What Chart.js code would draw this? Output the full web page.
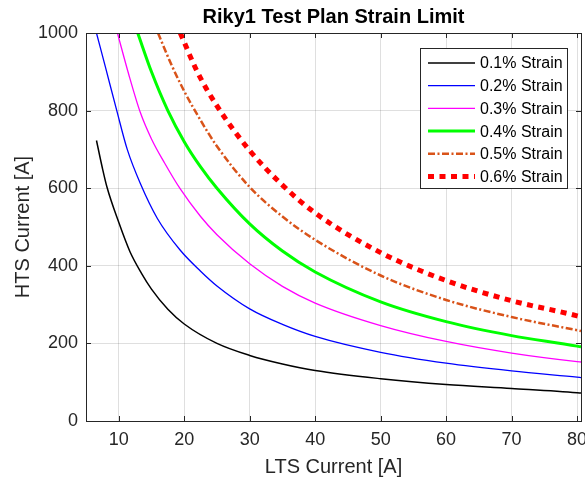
<!DOCTYPE html>
<html>
<head>
<meta charset="utf-8">
<title>Riky1 Test Plan Strain Limit</title>
<script src="https://cdn.jsdelivr.net/npm/chart.js@4.4.1/dist/chart.umd.min.js"></script>
<style>
    html, body { margin: 0; padding: 0; background: #fff; }
    #wrap { width: 585px; height: 480px; }
</style>
</head>
<body>
<div id="wrap"><canvas id="strainChart" width="585" height="480"></canvas></div>
<script>
// ================= DATA =================
const xTicks = [10, 20, 30, 40, 50, 60, 70, 80];
const yTicks = [0, 200, 400, 600, 800, 1000];

const seriesLabels = ['0.1% Strain', '0.2% Strain', '0.3% Strain', '0.4% Strain', '0.5% Strain', '0.6% Strain'];

// LTS current [A] / HTS current [A] per strain level
const lts01 = [6.6, 7.5, 8.2, 10, 11.7, 13.5, 15, 17.5, 20, 25, 30, 35, 40, 50, 60, 70, 80, 80.6];
const hts01 = [723, 652, 603, 512, 437, 380, 340, 288, 250, 200, 169, 147, 130, 109, 94, 84, 73, 72];

const lts02 = [6.6, 8, 9.7, 11.3, 13.3, 15.9, 19.4, 22.5, 25, 30, 35, 40, 50, 60, 70, 80, 80.6];
const hts02 = [1000, 910, 800, 700, 612, 522, 440, 386, 348, 289, 249, 218, 177, 149, 129, 113, 112];

const lts03 = [9.8, 11.5, 13.3, 15, 17, 19.4, 22.5, 25, 30, 35, 40, 50, 60, 70, 80, 80.6];
const hts03 = [1000, 895, 795, 727, 665, 598, 527, 480, 405, 347, 304, 246, 205, 175, 153, 152];

const lts04 = [12.9, 15, 17.5, 20, 22.5, 25, 30, 35, 40, 50, 60, 70, 80, 80.6];
const hts04 = [1000, 900, 800, 720, 655, 600, 508, 438, 384, 307, 256, 220, 193, 191];

const lts05 = [16, 18, 20, 22.5, 25, 30, 35, 40, 50, 60, 70, 80, 80.6];
const hts05 = [1000, 920, 850, 775, 708, 603, 527, 467, 375, 312, 268, 234, 232];

const lts06 = [19.4, 22, 25, 30, 35, 40, 50, 60, 70, 80, 80.6];
const hts06 = [1000, 900, 812, 697, 608, 536, 434, 362, 310, 271, 268];

// ================= STYLE =================
const FONT = '"Liberation Sans", Arial, Helvetica, sans-serif';
const AXIS_COLOR = '#262626';
const GRID_COLOR = 'rgba(38,38,38,0.15)';

const toPoints = (xs, ys) => xs.map((x, i) => ({ x, y: ys[i] }));

function makeLine(label, xs, ys, color, width, dash) {
    return {
        label,
        data: toPoints(xs, ys),
        borderColor: color,
        backgroundColor: color,
        borderWidth: width,
        borderDash: dash,
        borderCapStyle: 'butt',
        pointRadius: 0,
        fill: false,
        cubicInterpolationMode: 'monotone'
    };
}

// ================= PLUGINS =================
// axes box with inward tick marks
const framePlugin = {
    id: 'frame',
    afterDatasetsDraw(chart) {
        const { ctx, chartArea: a, scales } = chart;
        const len = 5;
        ctx.save();
        ctx.strokeStyle = AXIS_COLOR;
        ctx.lineWidth = 1;
        ctx.setLineDash([]);
        ctx.beginPath();
        xTicks.forEach(v => {
            const px = Math.round(scales.x.getPixelForValue(v)) + 0.5;
            ctx.moveTo(px, a.bottom); ctx.lineTo(px, a.bottom - len);
            ctx.moveTo(px, a.top); ctx.lineTo(px, a.top + len);
        });
        yTicks.forEach(v => {
            const py = Math.round(scales.y.getPixelForValue(v)) + 0.5;
            ctx.moveTo(a.left, py); ctx.lineTo(a.left + len, py);
            ctx.moveTo(a.right, py); ctx.lineTo(a.right - len, py);
        });
        ctx.stroke();
        ctx.strokeRect(Math.round(a.left) + 0.5, Math.round(a.top) + 0.5,
            Math.round(a.right - a.left), Math.round(a.bottom - a.top));
        ctx.restore();
    }
};

// legend box in the upper right corner of the plot
const legendPlugin = {
    id: 'boxLegend',
    afterDraw(chart) {
        const { ctx, chartArea: a } = chart;
        const w = 147, h = 140, rowH = 22.7;
        const x0 = a.right - 14 - w;
        const y0 = a.top + 15;
        ctx.save();
        ctx.fillStyle = '#fff';
        ctx.fillRect(x0, y0, w, h);
        ctx.strokeStyle = AXIS_COLOR;
        ctx.lineWidth = 1;
        ctx.strokeRect(Math.round(x0) + 0.5, Math.round(y0) + 0.5, w, h);

        ctx.font = '16px ' + FONT;
        ctx.textBaseline = 'middle';
        ctx.fillStyle = '#000';
        chart.data.datasets.forEach((ds, i) => {
            const cy = y0 + 15 + i * rowH;
            ctx.beginPath();
            ctx.strokeStyle = ds.borderColor;
            ctx.lineWidth = ds.borderWidth;
            ctx.lineCap = 'butt';
            ctx.setLineDash(ds.borderDash || []);
            ctx.moveTo(x0 + 8, cy);
            ctx.lineTo(x0 + 55, cy);
            ctx.stroke();
            ctx.setLineDash([]);
            ctx.fillText(ds.label, x0 + 60, cy + 1);
        });
        ctx.restore();
    }
};

// bold title centred over the plot area
const titlePlugin = {
    id: 'plotTitle',
    afterDraw(chart) {
        const { ctx, chartArea: a } = chart;
        ctx.save();
        ctx.font = 'bold 20px ' + FONT;
        ctx.fillStyle = '#000';
        ctx.textAlign = 'center';
        ctx.textBaseline = 'middle';
        ctx.fillText('Riky1 Test Plan Strain Limit', (a.left + a.right) / 2, 17);
        ctx.restore();
    }
};

// ================= CHART =================
Chart.defaults.font.family = FONT;

new Chart(document.getElementById('strainChart'), {
    type: 'line',
    data: {
        datasets: [
            makeLine(seriesLabels[0], lts01, hts01, '#000000', 1.5, []),
            makeLine(seriesLabels[1], lts02, hts02, '#0000FF', 1.3, []),
            makeLine(seriesLabels[2], lts03, hts03, '#FF00FF', 1.3, []),
            makeLine(seriesLabels[3], lts04, hts04, '#00FF00', 3, []),
            makeLine(seriesLabels[4], lts05, hts05, '#D95319', 2.5, [7, 2.5, 2, 2.5]),
            makeLine(seriesLabels[5], lts06, hts06, '#FF0000', 5, [6, 5.5])
        ]
    },
    plugins: [framePlugin, legendPlugin, titlePlugin],
    options: {
        responsive: false,
        devicePixelRatio: 1,
        animation: false,
        layout: { padding: { top: 33, right: 4, left: 0, bottom: 0 } },
        plugins: {
            legend: { display: false },
            title: { display: false },
            tooltip: { enabled: false }
        },
        scales: {
            x: {
                type: 'linear',
                min: 5,
                max: 80.6,
                afterBuildTicks: s => { s.ticks = xTicks.map(v => ({ value: v })); },
                afterFit: s => {
                    s.height = 59;
                    s.paddingLeft = 0;
                    s.paddingRight = 0;
                },
                grid: { color: GRID_COLOR, drawTicks: false },
                border: { display: false },
                ticks: {
                    color: AXIS_COLOR,
                    font: { size: 18 },
                    padding: 8,
                    maxRotation: 0,
                    autoSkip: false,
                    callback: v => String(v)
                },
                title: {
                    display: true,
                    text: 'LTS Current [A]',
                    color: AXIS_COLOR,
                    font: { size: 20 },
                    padding: { top: 0, bottom: 1 }
                }
            },
            y: {
                type: 'linear',
                min: 0,
                max: 1000,
                afterBuildTicks: s => { s.ticks = yTicks.map(v => ({ value: v })); },
                afterFit: s => {
                    s.width = 86;
                    s.paddingTop = 0;
                    s.paddingBottom = 0;
                },
                grid: { color: GRID_COLOR, drawTicks: false },
                border: { display: false },
                ticks: {
                    color: AXIS_COLOR,
                    font: { size: 18 },
                    padding: 8,
                    autoSkip: false,
                    callback: v => String(v)
                },
                title: {
                    display: true,
                    text: 'HTS Current [A]',
                    color: AXIS_COLOR,
                    font: { size: 20 },
                    padding: { top: 11, bottom: 0 }
                }
            }
        }
    }
});
</script>
</body>
</html>
